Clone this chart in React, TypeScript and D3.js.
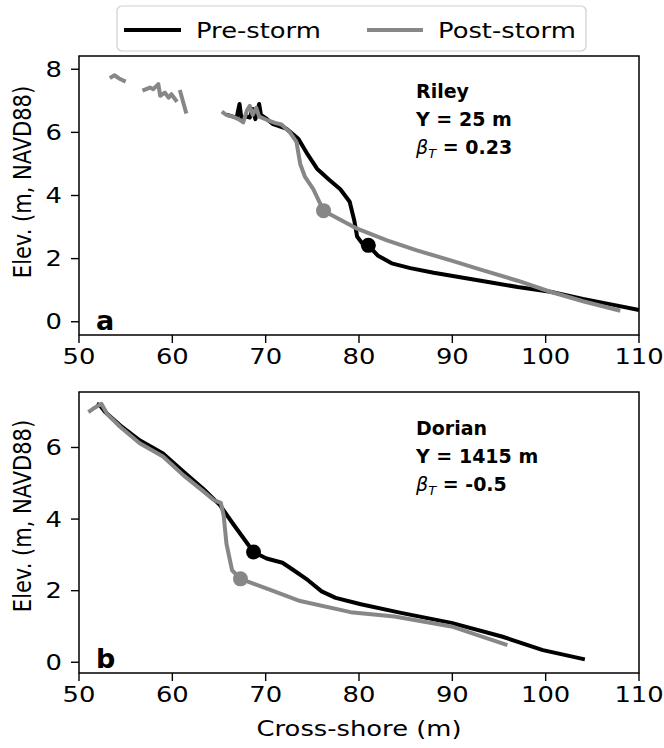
import React from "react";
import * as d3 from "d3";

const W = 664;
const H = 748;
const FONT = "DejaVu Sans, sans-serif";
const GRAY = "#878787";
const SX = 1.2; // the reference type is drawn a little wide

// x ticks shared by both panels
const xTicks = [50, 60, 70, 80, 90, 100, 110];
const yTicksA = [0, 2, 4, 6, 8];
const yTicksB = [0, 2, 4, 6];

// panel a (Riley) — null marks a gap in the survey
const preAx = [65.8, 66.5, 66.9, 67.2, 67.4, 68.0, 68.3, 68.6, 68.9, 69.3, 69.5, 70.0, 70.8, 72.2, 73.5, 74.5, 75.5, 76.8, 78.0, 79.0, 79.5, 79.8, 80.3, 81.0, 82.0, 83.5, 85.5, 88, 91, 94, 97, 100.5, 104, 107, 110];
const preAy = [6.56, 6.5, 6.48, 6.9, 6.45, 6.5, 6.47, 6.74, 6.42, 6.9, 6.55, 6.45, 6.26, 6.12, 5.8, 5.3, 4.85, 4.5, 4.2, 3.8, 3.2, 2.7, 2.5, 2.42, 2.1, 1.85, 1.7, 1.55, 1.4, 1.25, 1.1, 0.95, 0.72, 0.55, 0.37];
const postAx = [53.3, 53.8, 54.4, 55.0, null, 56.8, 57.6, 57.96, 58.5, 58.7, 59.2, 59.6, 59.9, 60.5, null, 60.8, 61.5, null,
  65.3, 65.8, 66.5, 67.2, 67.6, 68.0, 68.3, 68.6, 69.0, 69.3, 70.1, 71.0, 71.7, 72.6, 73.3, 73.7, 74.2, 75.1, 76.2, 79.8, 83, 86.2, 90, 93.3, 97, 100.5, 104, 108];
const postAy = [7.72, 7.81, 7.69, 7.61, null, 7.32, 7.42, 7.37, 7.53, 7.16, 7.26, 7.1, 7.21, 6.97, null, 7.34, 6.6, null,
  6.66, 6.55, 6.5, 6.4, 6.32, 6.7, 6.84, 6.55, 6.78, 6.5, 6.4, 6.3, 6.25, 6.0, 5.7, 5.0, 4.6, 4.2, 3.52, 2.95, 2.58, 2.26, 1.93, 1.63, 1.3, 0.95, 0.65, 0.35];
const dotA = { pre: [81.0, 2.42], post: [76.2, 3.52] };

// panel b (Dorian)
const preBx = [51.9, 52.25, 52.8, 54.4, 56.5, 59.0, 61.2, 63.3, 65.1, 66.5, 68.7, 70.1, 71.8, 73.0, 74.5, 76.0, 77.5, 80.2, 84.5, 89.9, 95.3, 99.7, 104.2];
const preBy = [7.22, 7.17, 6.99, 6.62, 6.2, 5.83, 5.32, 4.85, 4.39, 3.87, 3.08, 2.9, 2.78, 2.57, 2.3, 1.98, 1.8, 1.62, 1.38, 1.1, 0.72, 0.34, 0.08];
const postBx = [51.0, 51.5, 52.4, 53.0, 54.4, 56.5, 59.0, 61.2, 63.3, 64.5, 65.2, 65.5, 65.8, 66.4, 67.3, 70.5, 73.7, 79.1, 83.8, 89.9, 95.9];
const postBy = [6.99, 7.08, 7.22, 6.94, 6.58, 6.12, 5.75, 5.22, 4.78, 4.52, 4.45, 4.1, 3.31, 2.57, 2.33, 2.02, 1.71, 1.4, 1.28, 1.0, 0.48];
const dotB = { pre: [68.7, 3.08], post: [67.3, 2.33] };

const left = 79;
const right = 639;

const x = d3.scaleLinear().domain([50, 110]).range([left, right]);

// text stretched sideways, anchored at (tx, ty)
function T(props: { tx: number; ty: number; anchor?: string; size?: number; children: React.ReactNode; dy?: string }) {
  return (
    <text
      transform={`translate(${props.tx},${props.ty}) scale(${SX},1)`}
      textAnchor={props.anchor || "start"}
      fontSize={props.size || 21.5}
      fontFamily={FONT}
      dy={props.dy}
    >
      {props.children}
    </text>
  );
}

type PanelProps = {
  top: number;
  bottom: number;
  yDomain: [number, number];
  yTicks: number[];
  preX: (number | null)[];
  preY: (number | null)[];
  postX: (number | null)[];
  postY: (number | null)[];
  dots: { pre: number[]; post: number[] };
  letter: string;
  lines: string[];
  beta: string;
  textTop: number;
  labelCenter: number;
};

function toPts(xs: (number | null)[], ys: (number | null)[]) {
  return xs.map((v, i) => [v, ys[i]] as [number | null, number | null]);
}

function Panel(p: PanelProps) {
  const y = d3.scaleLinear().domain(p.yDomain).range([p.bottom, p.top]);
  const line = d3
    .line<[number | null, number | null]>()
    .defined(d => d[0] != null && d[1] != null)
    .x(d => x(d[0] as number))
    .y(d => y(d[1] as number));
  return (
    <g>
      <path d={line(toPts(p.preX, p.preY)) || ""} fill="none" stroke="#000" strokeWidth={4} strokeLinejoin="round" />
      <path d={line(toPts(p.postX, p.postY)) || ""} fill="none" stroke={GRAY} strokeWidth={4} strokeLinejoin="round" />
      <circle cx={x(p.dots.pre[0])} cy={y(p.dots.pre[1])} r={7.5} fill="#000" />
      <circle cx={x(p.dots.post[0])} cy={y(p.dots.post[1])} r={7.5} fill={GRAY} />
      <rect x={left} y={p.top} width={right - left} height={p.bottom - p.top} fill="none" stroke="#000" strokeWidth={1.5} />
      {xTicks.map(t => (
        <g key={t}>
          <line x1={x(t)} x2={x(t)} y1={p.bottom} y2={p.bottom + 8} stroke="#000" strokeWidth={1.4} />
          <T tx={x(t)} ty={p.bottom + 29} anchor="middle">{t}</T>
        </g>
      ))}
      {p.yTicks.map(t => (
        <g key={t}>
          <line x1={left - 8} x2={left} y1={y(t)} y2={y(t)} stroke="#000" strokeWidth={1.4} />
          <T tx={left - 17} ty={y(t)} anchor="end" dy="0.36em">{t}</T>
        </g>
      ))}
      <text
        transform={`translate(22,${p.labelCenter}) scale(${SX},1) rotate(-90)`}
        fontSize={21}
        textAnchor="middle"
        dy="0.36em"
        fontFamily={FONT}
      >
        Elev. (m, NAVD88)
      </text>
      <text x={96} y={p.bottom - 5} fontSize={27} fontWeight="bold" fontFamily={FONT}>{p.letter}</text>
      <g fontFamily={FONT} fontSize={19} fontWeight="bold">
        <text x={416} y={p.textTop}>{p.lines[0]}</text>
        <text x={416} y={p.textTop + 28}>{p.lines[1]}</text>
        <text x={416} y={p.textTop + 56}>
          <tspan fontStyle="italic" fontWeight="normal">β</tspan>
          <tspan fontStyle="italic" fontWeight="normal" fontSize={13} dy={4}>T</tspan>
          <tspan dy={-4}>{" = " + p.beta}</tspan>
        </text>
      </g>
    </g>
  );
}

export default function App() {
  return (
    <div style={{ position: "absolute", left: 0, top: 0 }}>
      <svg width={W} height={H} style={{ display: "block", background: "#fff" }}>
        {/* legend */}
        <rect x={117} y={6} width={469} height={45} rx={5} fill="#fff" stroke="#cfcfcf" strokeWidth={1.2} />
        <line x1={124} x2={181} y1={30} y2={30} stroke="#000" strokeWidth={4} />
        <T tx={196} ty={30} dy="0.36em">Pre-storm</T>
        <line x1={367} x2={423} y1={30} y2={30} stroke={GRAY} strokeWidth={4} />
        <T tx={438} ty={30} dy="0.36em">Post-storm</T>

        <Panel
          top={56}
          bottom={335}
          yDomain={[-0.42, 8.42]}
          yTicks={yTicksA}
          preX={preAx}
          preY={preAy}
          postX={postAx}
          postY={postAy}
          dots={dotA}
          letter="a"
          lines={["Riley", "Y = 25 m"]}
          beta="0.23"
          textTop={98}
          labelCenter={182}
        />
        <Panel
          top={392}
          bottom={673}
          yDomain={[-0.3, 7.55]}
          yTicks={yTicksB}
          preX={preBx}
          preY={preBy}
          postX={postBx}
          postY={postBy}
          dots={dotB}
          letter="b"
          lines={["Dorian", "Y = 1415 m"]}
          beta="-0.5"
          textTop={435}
          labelCenter={516}
        />
        <T tx={(left + right) / 2} ty={736} anchor="middle">Cross-shore (m)</T>
      </svg>
    </div>
  );
}
